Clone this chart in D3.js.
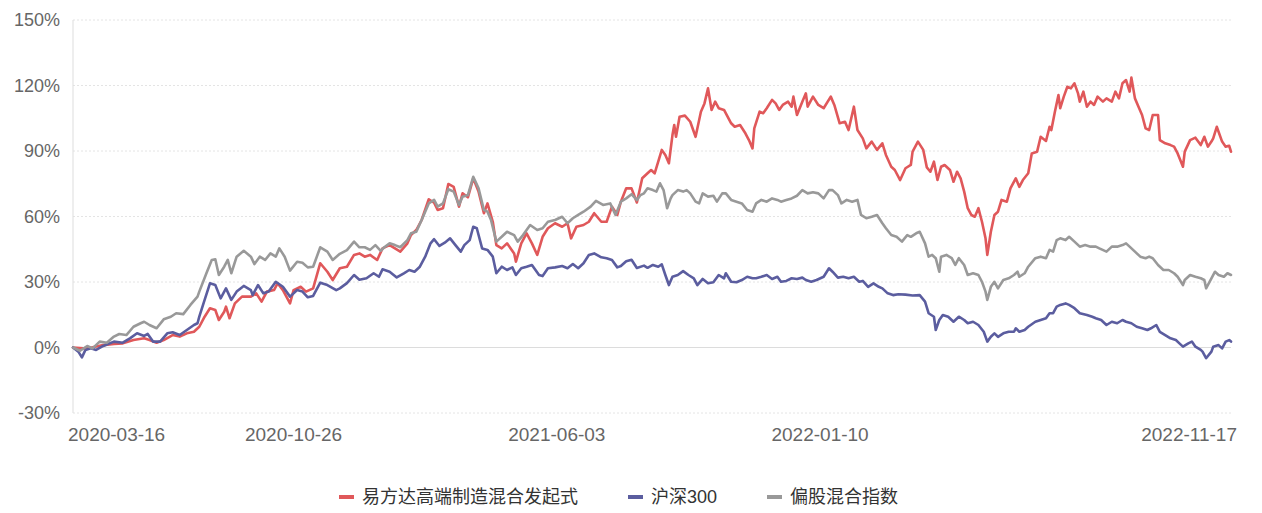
<!DOCTYPE html>
<html>
<head>
<meta charset="utf-8">
<script src="https://cdn.jsdelivr.net/npm/d3@7/dist/d3.min.js"></script>
<style>
   body { margin: 0; background: #fff; }
   svg text { font-family: "Liberation Sans", Arial, "Noto Sans CJK SC", sans-serif; }
</style>
</head>
<body>
<div id="chart"></div>
<script>
/** DATA **/
// [trading day since 2020-03-16, cumulative return %]
var fundSeries = [[0,0],[6,-0.4],[11,0.1],[17,1.1],[23,1.6],[28,1.9],[34,3.4],[40,4.2],[43,3.4],[47,2.2],[51,3.4],[56,5.7],[60,5.0],[64,6.5],[68,7.2],[71,9.5],[74,14.1],[77,18.0],[80,17.2],[82,12.6],[85,16.4],[86,18.7],[88,13.4],[91,20.2],[95,23.3],[100,23.3],[103,24.8],[106,21.0],[109,25.6],[113,26.3],[115,29.4],[118,26.3],[122,20.2],[124,26.3],[128,27.8],[131,25.6],[135,27.1],[139,38.6],[143,34.7],[146,30.9],[150,36.3],[154,37.0],[158,42.4],[161,43.1],[164,41.6],[167,42.4],[171,40.1],[174,45.4],[178,46.9],[181,45.4],[184,43.9],[188,47.7],[190,51.5],[193,53.8],[196,58.4],[200,67.9],[203,66.3],[205,63.0],[208,63.8],[211,74.9],[214,73.6],[217,64.5],[219,70.6],[222,68.8],[225,77.5],[228,71.4],[231,61.5],[233,66.0],[236,57.6],[238,46.9],[241,45.4],[244,47.7],[248,43.1],[249,39.3],[252,47.7],[255,52.3],[258,47.7],[261,42.4],[264,50.7],[267,54.6],[271,56.9],[275,55.3],[278,56.9],[280,50.0],[283,55.3],[287,56.1],[290,57.6],[293,61.5],[297,57.6],[300,57.6],[303,64.5],[306,60.7],[308,66.8],[311,72.9],[314,72.9],[317,66.4],[320,77.5],[323,79.8],[325,81.3],[327,79.8],[329,85.1],[331,90.5],[333,88.2],[335,84.4],[337,97.3],[338,101.9],[339,96.5],[341,105.7],[344,106.2],[347,103.4],[350,96.5],[353,108.0],[355,111.8],[357,118.7],[359,108.8],[361,112.6],[363,109.6],[366,108.8],[368,105.7],[370,102.7],[372,101.1],[375,101.9],[378,98.1],[380,95.0],[382,91.2],[383,100.4],[386,108.0],[388,107.3],[390,109.6],[393,113.4],[395,111.8],[397,108.8],[399,111.1],[402,112.6],[404,110.3],[405,114.9],[407,106.5],[410,112.6],[412,116.4],[413,110.3],[416,114.9],[419,111.1],[422,109.6],[426,114.9],[428,111.1],[431,102.7],[434,103.4],[436,99.6],[439,110.3],[441,99.6],[444,95.8],[446,91.2],[449,94.3],[452,90.5],[455,93.5],[457,88.2],[460,82.8],[462,81.3],[465,76.7],[468,82.1],[471,83.6],[472,89.7],[475,94.3],[478,90.5],[480,82.5],[482,80.5],[484,85.1],[486,76.7],[488,82.8],[490,83.6],[493,81.3],[495,75.9],[497,80.5],[499,77.5],[501,71.4],[503,63.8],[505,60.7],[507,59.9],[509,63.8],[511,57.6],[513,50.0],[514,42.4],[516,53.0],[518,60.7],[520,62.2],[522,67.6],[525,66.8],[527,72.9],[530,77.5],[532,73.6],[534,76.7],[537,79.8],[539,88.9],[542,89.7],[544,96.5],[547,94.6],[549,101.1],[550,99.6],[552,108.0],[554,115.6],[555,109.6],[557,114.9],[559,119.4],[561,118.7],[563,121.0],[565,116.4],[566,112.6],[568,117.2],[570,110.3],[572,112.6],[574,111.1],[576,114.9],[579,112.6],[581,114.1],[584,112.6],[586,117.2],[588,114.1],[590,121.0],[592,122.5],[594,117.2],[595,123.6],[597,114.1],[599,110.3],[601,106.5],[603,100.4],[605,99.6],[607,106.5],[610,106.5],[611,95.0],[614,93.5],[617,92.7],[619,92.0],[621,88.9],[624,82.8],[625,89.7],[628,95.0],[631,96.1],[634,92.7],[636,96.5],[638,92.0],[640,94.3],[641,95.8],[643,101.1],[646,94.3],[648,92.0],[650,92.4],[651,89.7]];

var hs300Series = [[0,0],[3,-1.9],[5,-4.5],[7,-1.1],[10,-0.4],[13,-1.1],[17,0.7],[23,2.7],[28,2.2],[32,4.2],[36,6.5],[40,5.3],[42,6.2],[45,2.7],[49,2.7],[53,6.5],[56,7.0],[60,5.7],[64,8.0],[68,10.3],[70,11.1],[71,14.1],[74,21.8],[77,29.4],[80,28.6],[83,22.5],[86,27.1],[89,21.8],[92,25.6],[96,28.2],[100,26.3],[101,24.0],[104,28.6],[107,24.8],[110,25.6],[114,30.1],[118,27.8],[122,23.3],[126,26.3],[129,25.6],[132,23.0],[135,23.6],[139,29.7],[143,28.6],[148,26.3],[150,27.1],[154,29.5],[158,33.2],[161,31.0],[165,31.7],[169,34.0],[172,32.4],[174,35.8],[178,34.7],[182,32.1],[186,34.0],[189,35.5],[192,34.7],[195,37.0],[198,41.6],[201,47.7],[203,49.6],[206,46.5],[209,48.0],[212,50.0],[215,46.9],[218,43.9],[220,46.9],[223,49.2],[225,55.3],[227,54.6],[230,45.4],[233,44.7],[236,41.6],[238,34.0],[241,37.0],[244,35.5],[247,36.7],[249,33.2],[252,36.3],[255,37.0],[258,37.8],[262,33.2],[264,32.7],[267,36.3],[271,36.7],[275,37.3],[278,36.3],[281,38.2],[284,36.3],[287,38.6],[290,42.4],[293,43.1],[297,41.3],[300,40.9],[303,40.1],[306,36.7],[308,37.3],[311,39.5],[314,40.2],[317,36.4],[321,37.5],[323,36.5],[326,37.8],[329,37.0],[331,38.1],[333,33.2],[335,28.6],[337,32.4],[340,33.2],[343,35.0],[346,33.2],[349,31.7],[351,28.6],[354,31.4],[357,29.4],[360,29.9],[363,33.2],[366,31.7],[367,34.0],[370,30.1],[373,29.9],[376,30.9],[379,32.4],[382,31.7],[384,31.7],[387,32.4],[390,33.2],[393,31.4],[396,32.4],[398,30.1],[401,30.5],[404,31.7],[407,31.4],[410,32.0],[412,30.9],[415,30.1],[418,30.9],[422,32.4],[425,36.3],[427,34.7],[430,32.0],[433,32.4],[436,31.7],[439,32.4],[442,30.1],[444,30.5],[447,27.8],[450,29.4],[453,27.8],[455,27.1],[458,24.8],[461,24.0],[464,24.4],[468,24.2],[472,23.8],[476,24.0],[479,21.0],[481,15.7],[484,14.1],[485,8.0],[487,12.6],[489,14.9],[492,14.1],[495,11.8],[498,14.1],[501,12.6],[503,11.1],[506,11.8],[509,10.3],[512,7.2],[514,2.7],[516,4.9],[518,6.5],[520,4.9],[523,6.5],[526,7.2],[529,7.2],[530,8.8],[532,7.2],[535,8.0],[537,9.5],[541,11.8],[544,12.6],[547,13.4],[549,15.7],[551,15.7],[553,18.7],[555,19.5],[558,20.2],[560,19.5],[563,18.0],[566,15.7],[570,14.9],[573,14.1],[575,13.4],[578,12.6],[581,10.3],[584,11.8],[587,11.1],[590,12.6],[592,11.8],[595,11.1],[598,9.5],[601,8.8],[604,8.0],[606,8.8],[609,10.3],[611,7.2],[614,5.7],[617,4.2],[620,3.4],[622,1.9],[624,0.4],[627,1.9],[629,2.7],[631,0.4],[634,-1.1],[635,-1.9],[637,-4.9],[640,-1.9],[641,0.4],[644,1.1],[646,-0.4],[648,2.7],[650,3.4],[651,2.7]];

var indexSeries = [[0,0],[4,-1.5],[8,0.7],[11,-0.4],[15,2.7],[19,2.2],[23,5.0],[26,6.2],[30,5.7],[34,9.5],[38,11.1],[40,11.8],[43,10.3],[47,8.8],[51,12.9],[55,14.1],[58,15.7],[62,15.3],[66,19.5],[70,23.3],[71,25.6],[75,34.0],[78,40.1],[80,40.4],[82,33.2],[85,37.0],[87,40.1],[89,34.0],[92,41.6],[96,44.3],[100,41.6],[102,38.2],[105,41.6],[108,40.1],[111,43.1],[114,41.6],[116,45.4],[119,41.6],[122,35.2],[126,39.3],[129,38.8],[132,36.7],[135,37.0],[139,45.9],[143,43.9],[146,40.1],[150,42.9],[154,44.6],[158,48.5],[161,45.9],[164,45.9],[167,44.7],[170,46.9],[173,44.3],[175,45.9],[178,47.7],[181,46.9],[184,45.9],[188,49.2],[190,52.3],[193,53.0],[196,58.4],[200,66.0],[203,67.6],[205,64.5],[208,66.0],[211,72.5],[214,71.4],[217,65.3],[219,69.1],[222,69.8],[225,78.2],[228,72.9],[231,63.0],[233,62.2],[235,58.4],[238,48.5],[241,50.7],[244,53.0],[248,51.5],[250,48.5],[253,51.5],[257,56.1],[261,53.8],[264,54.6],[267,57.6],[271,58.4],[275,59.9],[278,56.9],[281,59.2],[284,60.7],[287,62.2],[291,64.5],[294,67.2],[298,65.3],[302,66.0],[305,60.7],[308,66.8],[311,68.3],[314,70.2],[317,67.5],[319,69.8],[321,70.6],[323,72.9],[326,72.1],[328,71.4],[330,75.2],[332,72.1],[334,63.8],[336,68.3],[337,69.8],[340,72.1],[343,71.4],[345,72.1],[347,70.6],[350,66.8],[352,66.0],[354,70.6],[357,69.1],[360,69.5],[362,66.8],[365,70.6],[367,70.6],[370,67.6],[373,66.8],[376,66.0],[379,63.0],[382,62.2],[384,66.0],[387,67.6],[390,66.8],[393,68.3],[396,67.6],[398,66.8],[401,67.6],[404,68.3],[407,69.5],[410,72.1],[413,70.6],[416,71.1],[419,70.6],[422,68.3],[425,72.1],[427,72.1],[430,69.8],[432,66.0],[435,67.6],[438,66.8],[441,67.6],[443,60.7],[446,59.2],[449,59.9],[452,60.7],[455,56.9],[457,54.6],[460,51.5],[463,50.7],[466,48.5],[469,51.5],[471,50.7],[474,52.3],[476,53.0],[479,47.7],[481,41.6],[483,42.4],[485,40.9],[487,34.7],[488,41.6],[491,42.4],[494,40.9],[496,37.8],[498,40.9],[501,37.8],[503,33.2],[506,34.0],[509,33.2],[511,30.1],[513,25.6],[514,21.8],[516,27.8],[518,30.1],[520,27.1],[523,30.9],[526,31.7],[529,33.2],[531,34.7],[532,32.4],[535,34.0],[537,37.0],[541,40.9],[544,41.6],[547,40.9],[549,44.7],[551,43.9],[553,49.2],[555,50.0],[558,49.2],[560,50.7],[563,48.5],[566,46.2],[569,46.9],[572,46.2],[575,46.2],[577,45.4],[581,43.9],[584,46.2],[587,46.2],[590,46.9],[592,47.7],[594,46.2],[597,43.9],[600,41.6],[603,40.9],[605,41.6],[607,40.9],[610,37.8],[613,35.5],[616,35.5],[619,34.0],[621,32.4],[624,28.6],[625,30.9],[628,33.2],[631,32.4],[634,31.7],[636,30.9],[637,27.1],[640,31.7],[642,34.7],[644,33.2],[647,32.4],[649,34.0],[651,33.2]];

var seriesNames = ['易方达高端制造混合发起式', '沪深300', '偏股混合指数'];
var seriesColors = ['#e0585a', '#5b5d9f', '#999999'];

var tickDays = [0, 124, 272, 420, 651];
var tickLabels = ['2020-03-16', '2020-10-26', '2021-06-03', '2022-01-10', '2022-11-17'];
var yTicks = [-30, 0, 30, 60, 90, 120, 150];

/** CHART **/
var width = 1262, height = 513;
var margin = {top: 20, right: 31, bottom: 100, left: 73};

var svg = d3.select('#chart').append('svg')
   .attr('width', width)
   .attr('height', height);

var x = d3.scaleLinear()
   .domain([0, 651])
   .range([margin.left, width - margin.right]);

var y = d3.scaleLinear()
   .domain([-30, 150])
   .range([height - margin.bottom, margin.top]);

// grid
svg.append('g').selectAll('line')
   .data(yTicks)
   .enter()
   .append('line')
   .attr('x1', x(0))
   .attr('x2', x(651))
   .attr('y1', function(d){ return y(d); })
   .attr('y2', function(d){ return y(d); })
   .attr('stroke', function(d){ return d === 0 ? '#dcdcdc' : '#e4e4e4'; })
   .attr('stroke-width', 1)
   .attr('stroke-dasharray', function(d){ return d === 0 ? null : '2,2'; });

// y axis line + labels
svg.append('line')
   .attr('x1', x(0)).attr('x2', x(0))
   .attr('y1', y(150)).attr('y2', y(-30))
   .attr('stroke', '#dddddd');

svg.append('g').selectAll('text')
   .data(yTicks)
   .enter()
   .append('text')
   .attr('x', x(0) - 13)
   .attr('y', function(d){ return y(d); })
   .attr('dy', '0.35em')
   .attr('text-anchor', 'end')
   .attr('font-size', 18)
   .attr('fill', '#666')
   .text(function(d){ return d + '%'; });

// x labels
svg.append('g').selectAll('text')
   .data(tickDays)
   .enter()
   .append('text')
   .attr('x', function(d, i){
      if (i === 0) return x(d) - 5;
      if (i === tickDays.length - 1) return x(d) + 6;
      return x(d);
   })
   .attr('y', 434)
   .attr('dy', '0.35em')
   .attr('text-anchor', function(d, i){
      if (i === 0) return 'start';
      if (i === tickDays.length - 1) return 'end';
      return 'middle';
   })
   .attr('font-size', 19)
   .attr('fill', '#666')
   .text(function(d, i){ return tickLabels[i]; });

// lines
var line = d3.line()
   .x(function(d){ return x(d[0]); })
   .y(function(d){ return y(d[1]); });

svg.append('g').selectAll('path')
   .data([fundSeries, hs300Series, indexSeries])
   .enter()
   .append('path')
   .attr('d', line)
   .attr('fill', 'none')
   .attr('stroke', function(d, i){ return seriesColors[i]; })
   .attr('stroke-width', 2.6)
   .attr('stroke-linejoin', 'round')
   .attr('stroke-linecap', 'round');

// legend
var legendX = [339, 628, 767];
var legend = svg.append('g').selectAll('g')
   .data(seriesNames)
   .enter()
   .append('g')
   .attr('transform', function(d, i){ return 'translate(' + legendX[i] + ',497)'; });

legend.append('rect')
   .attr('x', 0).attr('y', -2)
   .attr('width', 15).attr('height', 4)
   .attr('fill', function(d, i){ return seriesColors[i]; });

legend.append('text')
   .attr('x', 23)
   .attr('dy', '0.35em')
   .attr('font-size', 18)
   .attr('fill', '#333')
   .text(function(d){ return d; });
</script>
</body>
</html>
